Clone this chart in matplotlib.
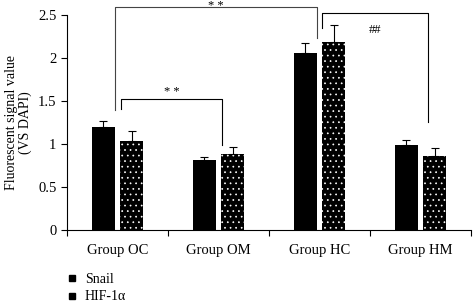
import numpy as np
import matplotlib
matplotlib.use("Agg")
import matplotlib.pyplot as plt
from matplotlib.lines import Line2D

groups = ["Group OC", "Group OM", "Group HC", "Group HM"]
snail = [1.20, 0.81, 2.06, 0.99]
snail_err = [0.07, 0.04, 0.11, 0.06]
hif = [1.03, 0.88, 2.19, 0.86]
hif_err = [0.12, 0.09, 0.19, 0.09]

plt.rcParams["font.family"] = ["Liberation Serif", "DejaVu Serif"]
plt.rcParams["hatch.linewidth"] = 0.5

fig = plt.figure(figsize=(4.73, 3.03), dpi=100)
ax = fig.add_axes([0.1416, 0.241, 0.854, 0.7096])

x = np.arange(len(groups)) + 0.5
w = 0.23
ax.bar(x - 0.14, snail, w, color="black",
       yerr=[np.zeros(4), snail_err], capsize=3,
       error_kw=dict(elinewidth=0.8, capthick=0.8, ecolor="black"))
ax.bar(x + 0.14, hif, w, color="black", edgecolor="white", linewidth=0,
       hatch="...",
       yerr=[np.zeros(4), hif_err], capsize=3,
       error_kw=dict(elinewidth=0.8, capthick=0.8, ecolor="black"))

ax.set_xlim(0, 4)
ax.set_ylim(0, 2.5)
ax.set_xticks([0, 1, 2, 3, 4])
ax.set_xticklabels([])
ax.set_xticks(x, minor=True)
ax.set_xticklabels(groups, minor=True)
ax.tick_params(axis="x", which="minor", length=0, pad=10, labelsize=10.5)
ax.tick_params(axis="x", which="major", length=4, direction="out")
ax.set_yticks([0, 0.5, 1, 1.5, 2, 2.5])
ax.set_yticklabels(["0", "0.5", "1", "1.5", "2", "2.5"])
ax.tick_params(axis="y", labelsize=10.5, length=4)
ax.spines["top"].set_visible(False)
ax.spines["right"].set_visible(False)
ax.set_ylabel("Fluorescent signal value\n(VS DAPI)", fontsize=10,
              linespacing=1.0)
ax.yaxis.set_label_coords(-0.087, 0.5)

# significance brackets
def bracket(x1, x2, y, y1, y2, color="black"):
    ax.plot([x1, x1, x2, x2], [y1, y, y, y2], color=color, lw=0.8,
            clip_on=False)

bracket(0.475, 2.475, 2.59, 1.40, 2.23, color="#444444")
ax.text(1.47, 2.672, "* *", ha="center", va="top", fontsize=9,
        clip_on=False)
bracket(0.535, 1.535, 1.52, 1.41, 0.99)
ax.text(1.04, 1.53, "* *", ha="center", va="bottom", fontsize=9)
bracket(2.525, 3.574, 2.52, 2.35, 1.26)
ax.text(3.05, 2.33, "##", ha="center", va="center", fontsize=9)

handles = [Line2D([], [], marker="s", color="black", ls="", markersize=5),
           Line2D([], [], marker="s", color="black", ls="", markersize=5)]
fig.legend(handles, ["Snail", "HIF-1α"], loc="upper left",
           bbox_to_anchor=(0.115, 0.13), frameon=False, fontsize=10,
           handletextpad=0.3, labelspacing=0.3, handlelength=1.2,
           borderpad=0.2)

fig.savefig("out.png", dpi=100)
